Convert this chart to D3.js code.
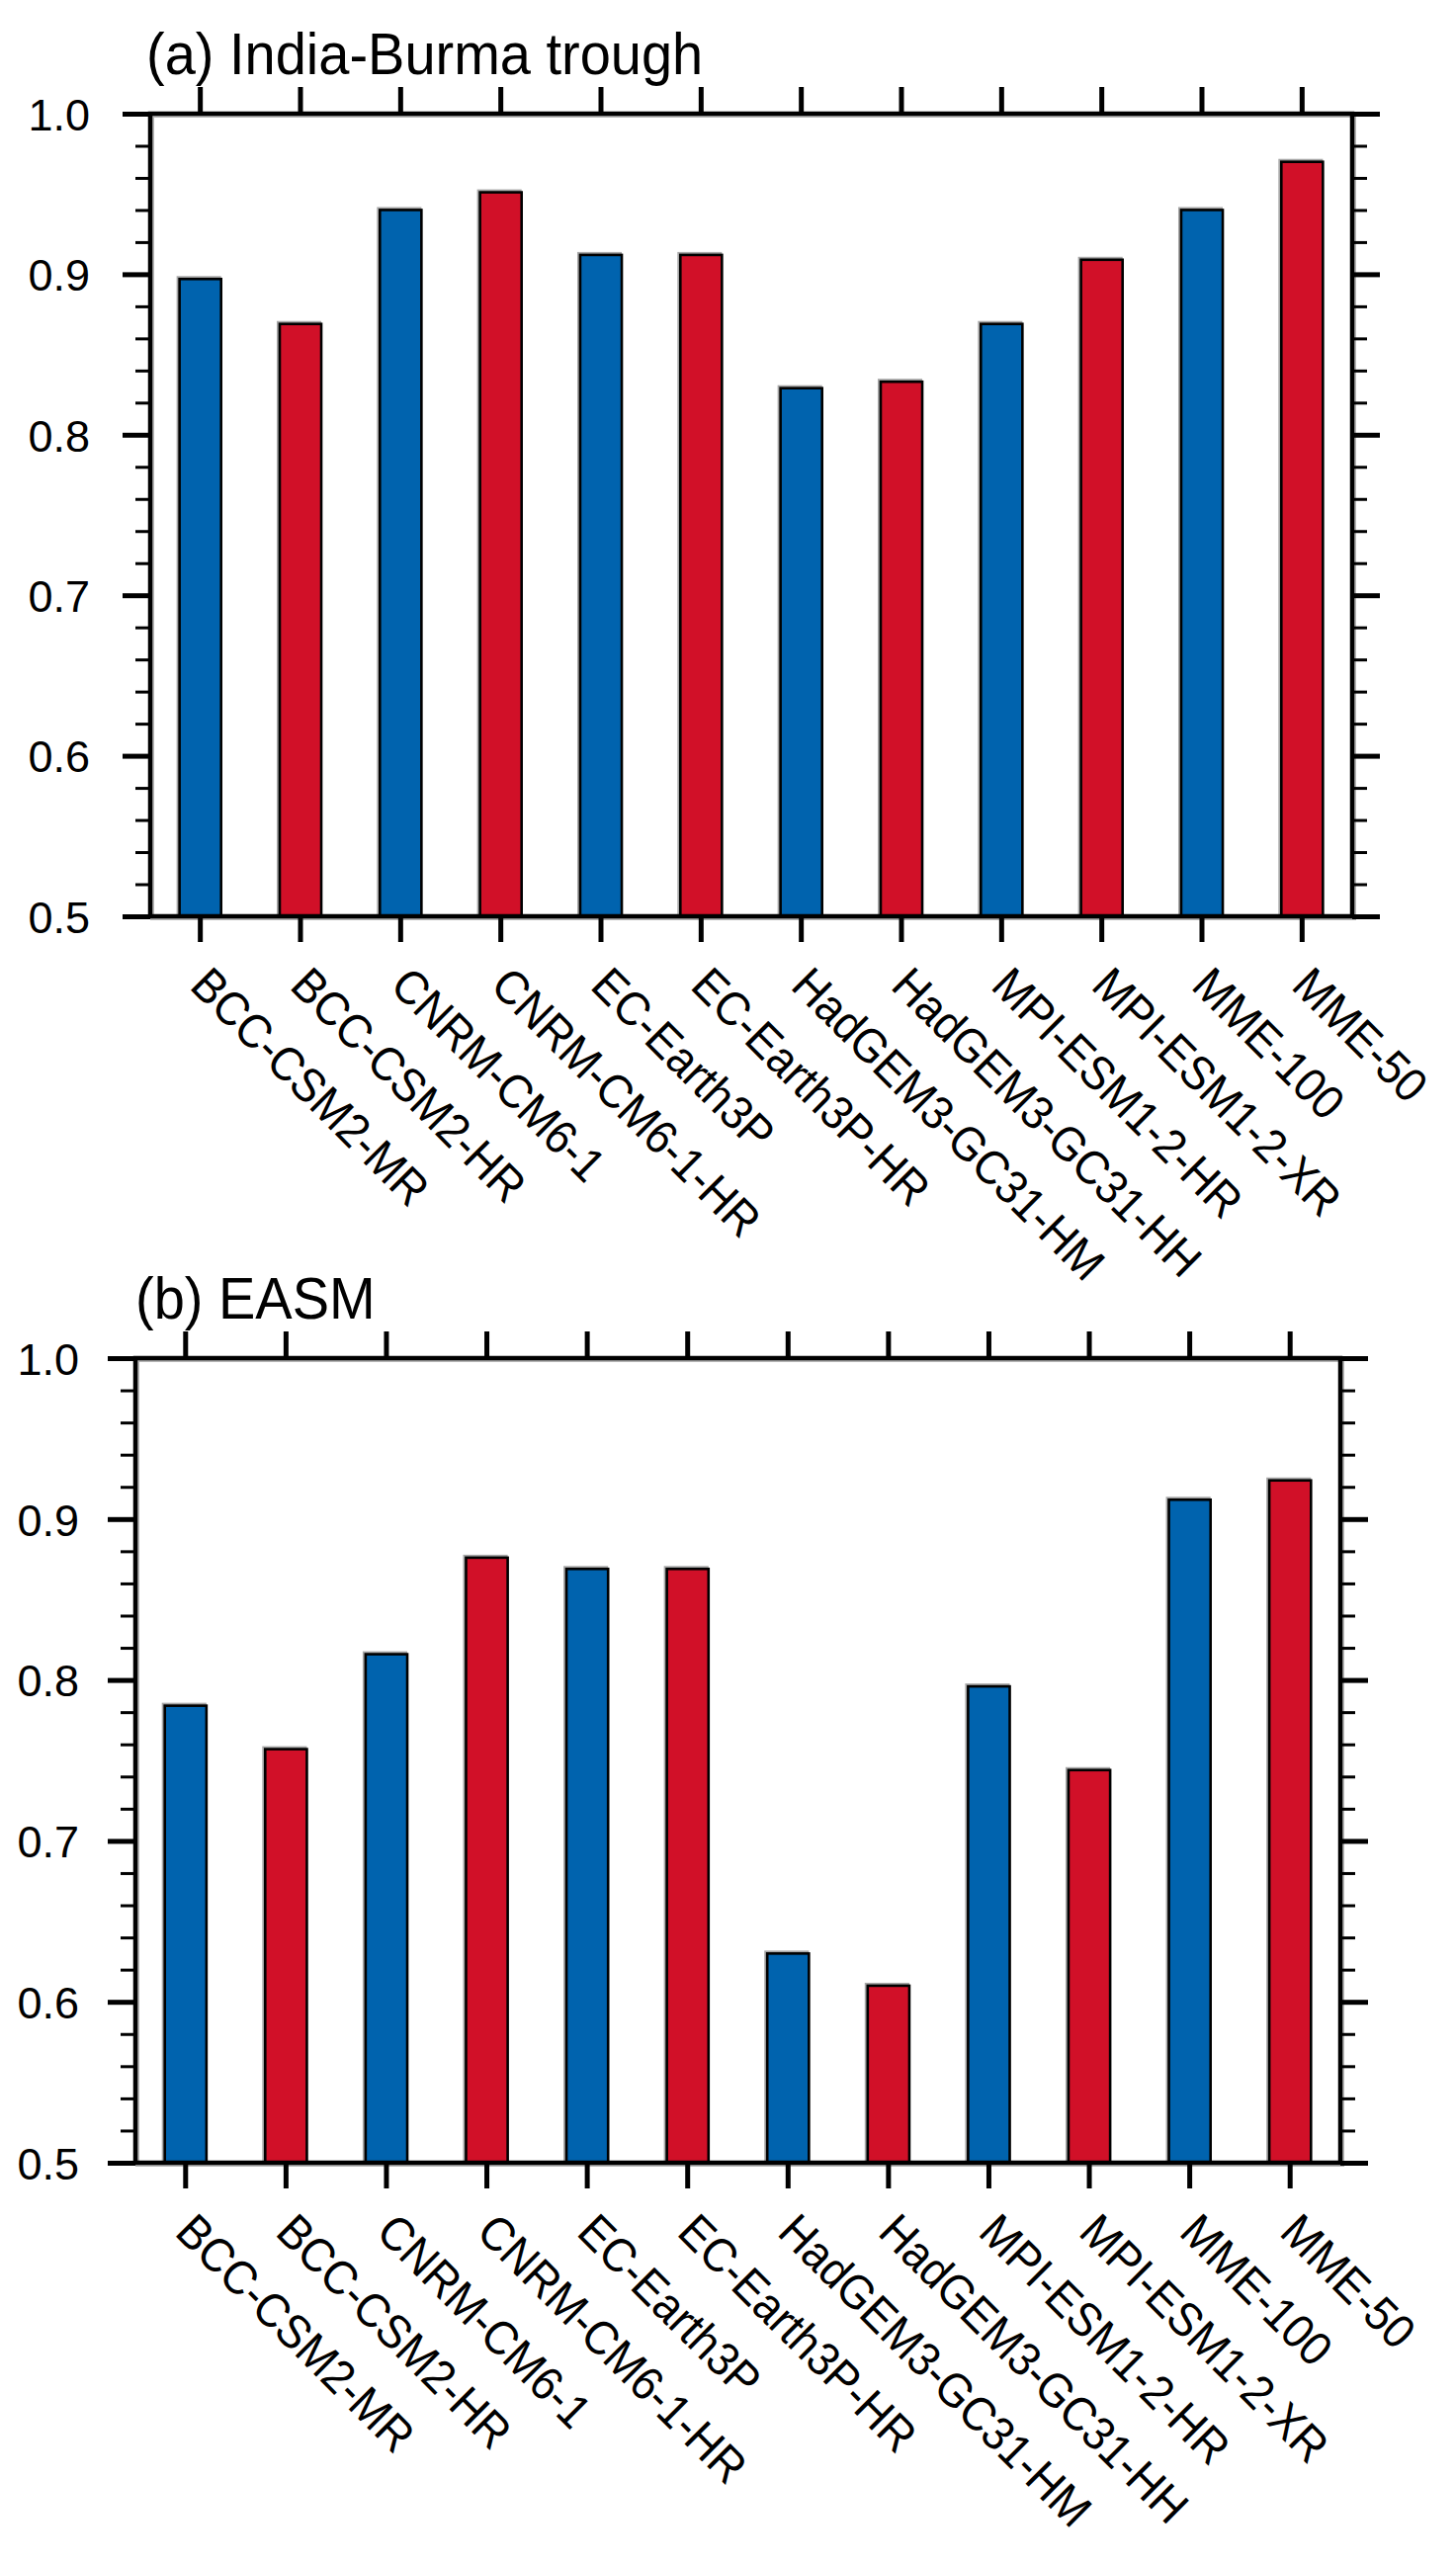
<!DOCTYPE html>
<html>
<head>
<meta charset="utf-8">
<script src="https://cdn.jsdelivr.net/npm/d3@7/dist/d3.min.js"></script>
<style>
  html, body { margin: 0; padding: 0; background: #fff; }
  svg { display: block; }
  text { font-family: "Liberation Sans", Arial, Helvetica, sans-serif; fill: #000; }
</style>
</head>
<body>
<svg id="chart" width="1473" height="2597"></svg>
<script>
// ---------------- DATA ----------------
const categories = [
  "BCC-CSM2-MR", "BCC-CSM2-HR", "CNRM-CM6-1", "CNRM-CM6-1-HR",
  "EC-Earth3P", "EC-Earth3P-HR", "HadGEM3-GC31-HM", "HadGEM3-GC31-HH",
  "MPI-ESM1-2-HR", "MPI-ESM1-2-XR", "MME-100", "MME-50"
];
const ibtValues  = [0.897, 0.869, 0.940, 0.951, 0.912, 0.912, 0.829, 0.833, 0.869, 0.909, 0.940, 0.970];
const easmValues = [0.784, 0.757, 0.816, 0.876, 0.869, 0.869, 0.630, 0.610, 0.796, 0.744, 0.912, 0.924];
const panelTitles = ["(a) India-Burma trough", "(b) EASM"];
const yMajorTicks = [0.5, 0.6, 0.7, 0.8, 0.9, 1.0];
const yMinorTicks = [0.52,0.54,0.56,0.58,0.62,0.64,0.66,0.68,0.72,0.74,0.76,0.78,0.82,0.84,0.86,0.88,0.92,0.94,0.96,0.98];
const yDomain = [0.5, 1.0];
const barColors = ["#0063ae", "#d11028"]; // alternating: blue, red

// ---------------- LAYOUT ----------------
const panels = [
  { title: panelTitles[0], values: ibtValues,  x0: 152, x1: 1368, y0: 115,  y1: 927,  labelGap: 33, titleX: 148 },
  { title: panelTitles[1], values: easmValues, x0: 137, x1: 1356, y0: 1374, y1: 2188, labelGap: 29, titleX: 137 }
];

const svg = d3.select("#chart");

panels.forEach(p => {
  const g = svg.append("g");
  const x = d3.scaleBand().domain(categories).range([p.x0, p.x1])
    .paddingInner(0.585).paddingOuter(0.2925);
  const y = d3.scaleLinear().domain(yDomain).range([p.y1, p.y0]);

  // bars: soft gray halo, then bar
  const data = categories.map((c, i) => ({ c, v: p.values[i], i }));
  g.append("g").selectAll("rect").data(data).join("rect")
    .attr("x", d => x(d.c) - 1.5)
    .attr("y", d => y(d.v) - 1.5)
    .attr("width", x.bandwidth())
    .attr("height", d => y(yDomain[0]) - y(d.v))
    .attr("fill", "none")
    .attr("stroke", "#a8a8a8")
    .attr("stroke-width", 3);
  g.append("g").selectAll("rect").data(data).join("rect")
    .attr("x", d => x(d.c))
    .attr("y", d => y(d.v))
    .attr("width", x.bandwidth())
    .attr("height", d => y(yDomain[0]) - y(d.v))
    .attr("fill", d => barColors[d.i % 2])
    .attr("stroke", "#000")
    .attr("stroke-width", 2.6);

  // frame halo + frame
  g.append("rect")
    .attr("x", p.x0 + 2).attr("y", p.y0 + 2)
    .attr("width", p.x1 - p.x0).attr("height", p.y1 - p.y0)
    .attr("fill", "none").attr("stroke", "#b5b5b5").attr("stroke-width", 4);
  g.append("rect")
    .attr("x", p.x0).attr("y", p.y0)
    .attr("width", p.x1 - p.x0).attr("height", p.y1 - p.y0)
    .attr("fill", "none").attr("stroke", "#000").attr("stroke-width", 4.5);

  const styleAxis = (sel, w) => {
    sel.select(".domain").remove();
    sel.selectAll(".tick line").attr("stroke", "#000").attr("stroke-width", w);
  };

  // left axis: major with labels
  const leftMajor = g.append("g").attr("transform", `translate(${p.x0},0)`)
    .call(d3.axisLeft(y).tickValues(yMajorTicks).tickSize(28).tickPadding(p.labelGap)
      .tickFormat(d3.format(".1f")));
  styleAxis(leftMajor, 5);
  leftMajor.selectAll(".tick text")
    .attr("font-size", 45)
    .attr("font-family", "Liberation Sans, Arial, sans-serif")
    .attr("fill", "#000")
    .attr("dy", "0.36em");

  const leftMinor = g.append("g").attr("transform", `translate(${p.x0},0)`)
    .call(d3.axisLeft(y).tickValues(yMinorTicks).tickSize(15).tickFormat(""));
  styleAxis(leftMinor, 3);

  // right axis (mirror, outward)
  const rightMajor = g.append("g").attr("transform", `translate(${p.x1},0)`)
    .call(d3.axisRight(y).tickValues(yMajorTicks).tickSize(28).tickFormat(""));
  styleAxis(rightMajor, 5);
  const rightMinor = g.append("g").attr("transform", `translate(${p.x1},0)`)
    .call(d3.axisRight(y).tickValues(yMinorTicks).tickSize(15).tickFormat(""));
  styleAxis(rightMinor, 3);

  // top axis (ticks only, outward)
  const top = g.append("g").attr("transform", `translate(0,${p.y0})`)
    .call(d3.axisTop(x).tickSize(27).tickFormat(""));
  styleAxis(top, 5);

  // bottom axis with rotated labels
  const bottom = g.append("g").attr("transform", `translate(0,${p.y1})`)
    .call(d3.axisBottom(x).tickSize(26));
  styleAxis(bottom, 5);
  bottom.selectAll(".tick text")
    .attr("x", 0).attr("y", 0).attr("dy", "0.36em")
    .attr("font-size", 44.5)
    .attr("font-family", "Liberation Sans, Arial, sans-serif")
    .attr("fill", "#000")
    .attr("text-anchor", "start")
    .attr("transform", "translate(0,60) rotate(45) scale(1,1.08)");

  // title
  g.append("text")
    .attr("transform", `translate(${p.titleX},${p.y0 - 40}) scale(1,1.05)`)
    .attr("font-size", 56)
    .text(p.title);
});
</script>
</body>
</html>
